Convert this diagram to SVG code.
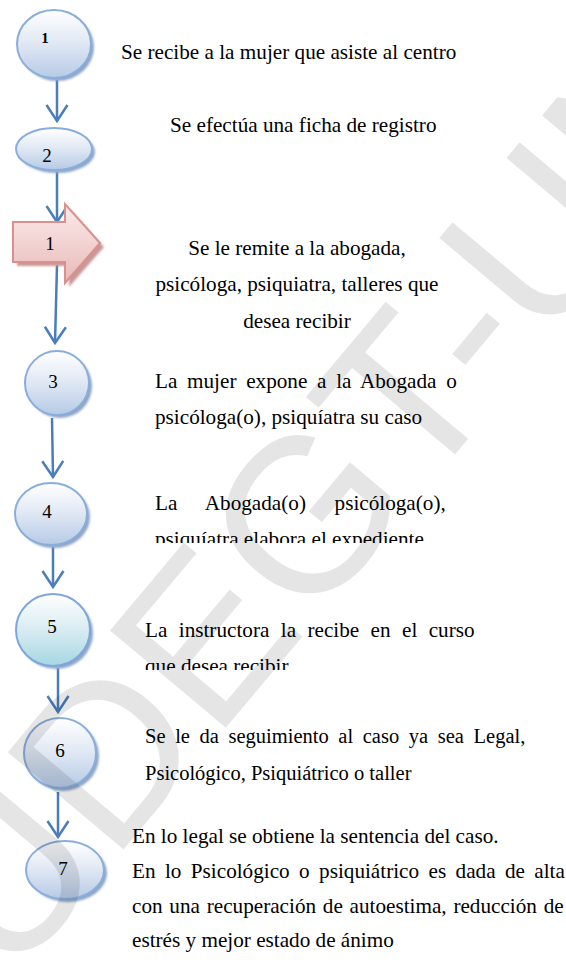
<svg xmlns="http://www.w3.org/2000/svg" width="566" height="960" viewBox="0 0 566 960">
<style>
.node{stroke:#8aaedc;stroke-width:2;fill:url(#gBlue)}
.shadow{fill:#8ea6c8;filter:url(#blur)}
.lbl{font-family:"Liberation Serif","Times New Roman",serif;font-size:19px;fill:#000;text-anchor:middle}
.txt{font-family:"Liberation Serif","Times New Roman",serif;font-size:21.2px;fill:#000}
.con{stroke:#4a7ebb;stroke-width:2.5;fill:none;marker-end:url(#vhead)}
.wm{font-family:"Liberation Sans",Arial,sans-serif;font-size:220px;fill:#000;fill-opacity:0.1}
</style>
<defs>
<linearGradient id="gBlue" x1="0" y1="0" x2="0" y2="1">
<stop offset="0" stop-color="#ffffff"/>
<stop offset="0.45" stop-color="#e3eaf5"/>
<stop offset="1" stop-color="#b6cae6"/>
</linearGradient>
<linearGradient id="gAqua" x1="0" y1="0" x2="0" y2="1">
<stop offset="0" stop-color="#ffffff"/>
<stop offset="0.5" stop-color="#d8ecf2"/>
<stop offset="1" stop-color="#a6d6e2"/>
</linearGradient>
<linearGradient id="gPink" x1="0" y1="0" x2="0" y2="1">
<stop offset="0" stop-color="#fbeceb"/>
<stop offset="1" stop-color="#e8b9b8"/>
</linearGradient>
<filter id="blur" x="-20%" y="-20%" width="140%" height="140%">
<feGaussianBlur stdDeviation="1.2"/>
</filter>
<marker id="vhead" viewBox="-18 -12 20 24" refX="0" refY="0" markerWidth="20" markerHeight="24" markerUnits="userSpaceOnUse" orient="auto" overflow="visible">
<path d="M-16,-10.5 L0,0 L-16,10.5" fill="none" stroke="#4a7ebb" stroke-width="2.5" stroke-linejoin="miter"/>
</marker>
<clipPath id="clip5"><rect x="140" y="500" width="426" height="43"/></clipPath>
<clipPath id="clip6"><rect x="130" y="620" width="436" height="50"/></clipPath>
</defs>
<rect width="566" height="960" fill="#ffffff"/>

<g id="connectors">
<line class="con" x1="57" y1="80" x2="57" y2="121"/>
<line class="con" x1="57" y1="172" x2="57" y2="222"/>
<line class="con" x1="57" y1="265" x2="55" y2="343"/>
<line class="con" x1="52" y1="418" x2="53" y2="477"/>
<line class="con" x1="53" y1="547" x2="53" y2="587"/>
<line class="con" x1="58" y1="668" x2="58" y2="712"/>
<line class="con" x1="58" y1="792" x2="58" y2="837"/>
</g>

<g id="node1">
<ellipse class="shadow" cx="57" cy="47" rx="37" ry="34"/>
<ellipse class="node" cx="54" cy="44" rx="37" ry="34"/>
<text class="lbl" x="45" y="43" style="font-weight:bold;font-size:15px">1</text>
</g>
<g id="node2">
<ellipse class="shadow" cx="57" cy="152" rx="38" ry="21"/>
<ellipse class="node" cx="54" cy="149" rx="38" ry="21"/>
<text class="lbl" x="47" y="162">2</text>
</g>
<g id="arrow1">
<path d="M17,226 L69,226 L69,208 L104,247 L69,287 L69,266 L17,266 Z" fill="#c99896" filter="url(#blur)"/>
<path d="M13,222 L65,222 L65,204 L100,243 L65,283 L65,262 L13,262 Z" fill="url(#gPink)" stroke="#d9918f" stroke-width="2"/>
<text class="lbl" x="50" y="250">1</text>
</g>
<g id="node3">
<ellipse class="shadow" cx="60" cy="386" rx="32" ry="32"/>
<ellipse class="node" cx="57" cy="383" rx="32" ry="32"/>
<text class="lbl" x="53" y="388">3</text>
</g>
<g id="node4">
<ellipse class="shadow" cx="54" cy="517" rx="36" ry="31"/>
<ellipse class="node" cx="51" cy="514" rx="36" ry="31"/>
<text class="lbl" x="47" y="518">4</text>
</g>
<g id="node5">
<ellipse class="shadow" cx="56" cy="633" rx="37" ry="36"/>
<ellipse class="node" cx="53" cy="630" rx="37" ry="36" style="fill:url(#gAqua);stroke:#7ea6dc"/>
<text class="lbl" x="52" y="633">5</text>
</g>
<g id="node6">
<ellipse class="shadow" cx="63" cy="756" rx="36" ry="35"/>
<ellipse class="node" cx="60" cy="753" rx="36" ry="35"/>
<text class="lbl" x="60" y="757">6</text>
</g>
<g id="node7">
<ellipse class="shadow" cx="68" cy="873" rx="39" ry="29"/>
<ellipse class="node" cx="65" cy="870" rx="39" ry="29"/>
<text class="lbl" x="63" y="875">7</text>
</g>

<g id="texts">
<text class="txt" x="121" y="59">Se recibe a la mujer que asiste al centro</text>
<text class="txt" x="170" y="132">Se efectúa una ficha de registro</text>
<text class="txt" x="297" y="255" text-anchor="middle">Se le remite a la abogada,</text>
<text class="txt" x="297" y="291" text-anchor="middle">psicóloga, psiquiatra, talleres que</text>
<text class="txt" x="297" y="328" text-anchor="middle">desea recibir</text>
<text class="txt" x="155" y="388" word-spacing="4.4">La mujer expone a la Abogada o</text>
<text class="txt" x="155" y="424">psicóloga(o), psiquíatra su caso</text>
<text class="txt" x="155" y="510" word-spacing="23.3">La Abogada(o) psicóloga(o),</text>
<text class="txt" x="155" y="546" clip-path="url(#clip5)">psiquíatra elabora el expediente</text>
<text class="txt" x="145" y="637" word-spacing="6.1">La instructora la recibe en el curso</text>
<text class="txt" x="145" y="673" clip-path="url(#clip6)">que desea recibir</text>
<text class="txt" x="145" y="743" style="font-size:20.5px" word-spacing="4.5">Se le da seguimiento al caso ya sea Legal,</text>
<text class="txt" x="145" y="780" style="font-size:20.5px">Psicológico, Psiquiátrico o taller</text>
<text class="txt" x="132" y="843">En lo legal se obtiene la sentencia del caso.</text>
<text class="txt" x="132" y="878" word-spacing="4.1">En lo Psicológico o psiquiátrico es dada de alta</text>
<text class="txt" x="132" y="913" word-spacing="1.45">con una recuperación de autoestima, reducción de</text>
<text class="txt" x="132" y="947">estrés y mejor estado de ánimo</text>
</g>

<g id="watermark">
<text class="wm" transform="translate(10,985) rotate(-50)">UDEGT-UN</text>
</g>
</svg>
